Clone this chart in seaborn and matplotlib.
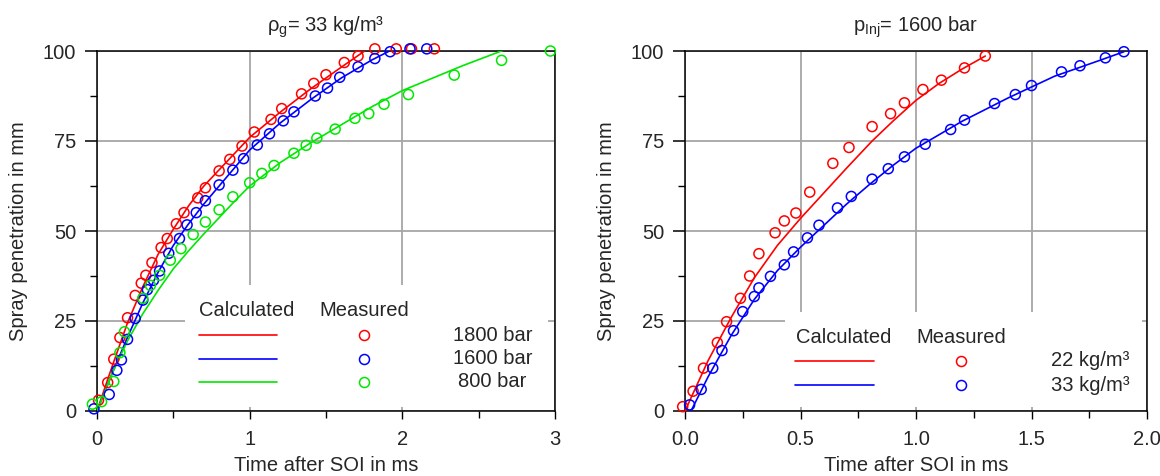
import numpy as np
import matplotlib
matplotlib.use("Agg")
import matplotlib.pyplot as plt
import seaborn as sns
from matplotlib.patches import Rectangle
from matplotlib.ticker import MultipleLocator, FormatStrFormatter

sns.set_theme(style="white")
plt.rcParams["font.family"] = ["Liberation Sans", "DejaVu Sans"]
plt.rcParams["mathtext.fontset"] = "custom"
plt.rcParams["mathtext.rm"] = "Liberation Sans"
plt.rcParams["mathtext.it"] = "Liberation Sans:italic"

RED, BLUE, GREEN = "#ff0000", "#0000ff", "#00e800"
GRID = "#a6a6a6"
FS = 14.5

# ---- Left: injection pressure variation at rho_g = 33 kg/m^3 ----
p_labels = ["1800 bar", "1600 bar", "800 bar"]

calc_t_1800 = [0, 0.1, 0.2, 0.3, 0.4, 0.5, 0.6, 0.7, 0.8, 0.9, 1.0, 1.2, 1.4, 1.6, 1.77]
calc_y_1800 = [0, 12.5, 24.5, 34.5, 43.5, 50.5, 57, 62.5, 67, 71.5, 76, 83, 89.5, 95.5, 100.5]
calc_t_1600 = [0, 0.1, 0.2, 0.3, 0.4, 0.5, 0.6, 0.7, 0.8, 0.9, 1.0, 1.2, 1.4, 1.6, 1.8, 1.93]
calc_y_1600 = [0, 10.5, 20.5, 30, 38.5, 46, 52, 57.5, 62.5, 67.5, 72.5, 80, 86.5, 92.5, 97.5, 100.3]
calc_t_800 = [0, 0.1, 0.2, 0.3, 0.4, 0.5, 0.6, 0.7, 0.8, 0.9, 1.0, 1.2, 1.4, 1.6, 1.8, 2.0, 2.2, 2.4, 2.68]
calc_y_800 = [0, 10.5, 19.5, 27, 33.5, 39.5, 44.5, 49.2, 53.7, 58.2, 62.5, 69, 74.5, 79.5, 84.5, 89, 92.5, 96, 100.5]

meas_t_1800 = [0.01, 0.07, 0.11, 0.15, 0.20, 0.25, 0.29, 0.32, 0.36, 0.42, 0.46, 0.52, 0.57,
               0.66, 0.71, 0.80, 0.87, 0.95, 1.03, 1.14, 1.21, 1.34, 1.42, 1.50, 1.62, 1.71,
               1.82, 1.96, 2.06, 2.21]
meas_y_1800 = [3.0, 7.9, 14.4, 20.4, 25.9, 32.1, 35.5, 37.7, 41.2, 45.4, 47.9, 52.0, 55.1,
               59.2, 62.0, 66.7, 69.9, 73.6, 77.5, 81.0, 84.0, 88.1, 91.0, 93.4, 96.8, 98.6,
               100.6, 100.6, 100.6, 100.6]
meas_t_1600 = [-0.02, 0.08, 0.13, 0.16, 0.20, 0.25, 0.30, 0.33, 0.37, 0.41, 0.47, 0.54, 0.59,
               0.65, 0.71, 0.80, 0.89, 0.96, 1.05, 1.13, 1.22, 1.29, 1.43, 1.51, 1.59, 1.71,
               1.82, 1.92, 2.05, 2.16]
meas_y_1600 = [0.6, 4.6, 11.3, 14.2, 19.9, 25.7, 30.8, 33.7, 36.3, 38.9, 43.8, 47.9, 51.7,
               55.1, 58.4, 62.8, 66.9, 70.1, 73.9, 77.0, 80.6, 83.1, 87.5, 89.7, 92.7, 95.6,
               97.9, 99.8, 100.6, 100.6]
meas_t_800 = [-0.03, 0.03, 0.11, 0.15, 0.18, 0.30, 0.35, 0.41, 0.48, 0.55, 0.63, 0.71, 0.80,
              0.89, 1.00, 1.08, 1.16, 1.29, 1.37, 1.44, 1.56, 1.69, 1.78, 1.88, 2.04, 2.34,
              2.65, 2.97]
meas_y_800 = [1.9, 2.6, 8.2, 16.2, 22.0, 31.3, 34.9, 37.7, 41.9, 45.1, 49.0, 52.5, 55.9,
              59.5, 63.4, 66.0, 68.2, 71.6, 73.8, 75.8, 78.3, 81.3, 82.6, 85.2, 87.9, 93.3,
              97.4, 100.0]

# ---- Right: gas density variation at p_inj = 1600 bar ----
rho_labels = ["22 kg/m³", "33 kg/m³"]

calc_t_22 = [0, 0.1, 0.2, 0.3, 0.4, 0.5, 0.6, 0.7, 0.81, 0.9, 1.0, 1.1, 1.2, 1.3]
calc_y_22 = [0, 14, 26, 37, 46, 53.5, 60.5, 67.5, 75, 80.5, 86.3, 91, 95, 98.6]
calc_t_33 = [0.026, 0.1, 0.2, 0.3, 0.4, 0.5, 0.575, 0.7, 0.8, 0.9, 1.0, 1.2, 1.4, 1.6, 1.8, 1.9]
calc_y_33 = [0, 9.5, 21, 31, 39, 45.5, 50, 57.5, 63, 68.2, 73, 80.5, 87, 93, 97.5, 99.8]

meas_t_22 = [-0.01, 0.035, 0.08, 0.14, 0.18, 0.24, 0.28, 0.32, 0.39, 0.43, 0.48, 0.54, 0.64,
             0.71, 0.81, 0.89, 0.95, 1.03, 1.11, 1.21, 1.30]
meas_y_22 = [1.2, 5.5, 11.9, 19.0, 24.8, 31.3, 37.5, 43.7, 49.5, 52.8, 55.0, 60.8, 68.8,
             73.2, 79.0, 82.6, 85.6, 89.3, 91.9, 95.3, 98.6]
meas_t_33 = [0.02, 0.07, 0.12, 0.16, 0.21, 0.25, 0.30, 0.32, 0.37, 0.43, 0.47, 0.53, 0.58,
             0.66, 0.72, 0.81, 0.88, 0.95, 1.04, 1.15, 1.21, 1.34, 1.43, 1.50, 1.63, 1.71,
             1.82, 1.90]
meas_y_33 = [1.7, 6.0, 11.9, 16.8, 22.3, 27.6, 31.8, 34.2, 37.4, 40.6, 44.2, 48.1, 51.6,
             56.4, 59.6, 64.4, 67.3, 70.6, 74.1, 78.2, 80.8, 85.4, 87.9, 90.4, 94.2, 95.9,
             98.1, 99.8]

y_ticks = [0, 25, 50, 75, 100]


def style_axes(ax, xmax, xmajor, xfmt):
    ax.set_xlim(0, xmax)
    ax.set_ylim(0, 100)
    ax.set_axisbelow(True)
    ax.xaxis.set_major_locator(MultipleLocator(xmajor))
    ax.xaxis.set_minor_locator(MultipleLocator(xmajor / 2))
    ax.xaxis.set_major_formatter(FormatStrFormatter(xfmt))
    ax.set_yticks(y_ticks)
    ax.yaxis.set_minor_locator(MultipleLocator(12.5))
    ax.grid(True, which="major", color=GRID, linewidth=1.3)
    for s in ax.spines.values():
        s.set_visible(True)
        s.set_color("black")
        s.set_linewidth(1.1)
    ax.tick_params(axis="y", which="major", direction="out", length=9, width=1.1,
                   color="black", pad=6, labelsize=FS, left=True)
    ax.tick_params(axis="y", which="minor", direction="out", length=5, width=1.0,
                   color="black", left=True)
    ax.tick_params(axis="x", which="major", direction="out", length=6, width=1.0,
                   color="black", pad=8, labelsize=FS, bottom=True)
    ax.tick_params(axis="x", which="minor", direction="out", length=5, width=1.0,
                   color="black", bottom=True)
    for tick, val in zip(ax.yaxis.get_major_ticks(), y_ticks):
        if 0 < val < 100:
            tick.tick1line.set_color(GRID)
    ax.set_ylabel("Spray penetration in mm", fontsize=FS)
    ax.set_xlabel("Time after SOI in ms", fontsize=FS)
    ax.yaxis.set_label_coords(-0.15, 0.5)
    ax.xaxis.set_label_coords(0.5, -0.125)
    ax.xaxis.label.set_va("top")


def draw_series(ax, ct, cy, mt, my, color):
    sns.lineplot(x=ct, y=cy, ax=ax, color=color, linewidth=1.2, estimator=None,
                 sort=False, legend=False, zorder=3)
    sns.scatterplot(x=mt, y=my, ax=ax, marker="o", s=52, facecolor="none",
                    edgecolor=color, linewidth=1.1, clip_on=False, zorder=4, legend=False)


def draw_key(ax, box, head_y, calc_x, meas_x, line_x, label_x, rows_y, colors, labels):
    ax.add_patch(Rectangle((box[0], box[1]), box[2] - box[0], box[3] - box[1],
                           transform=ax.transAxes, facecolor="white", edgecolor="none",
                           zorder=1))
    ax.text(calc_x, head_y, "Calculated", transform=ax.transAxes, ha="center",
            va="center", fontsize=FS, zorder=5)
    ax.text(meas_x, head_y, "Measured", transform=ax.transAxes, ha="center",
            va="center", fontsize=FS, zorder=5)
    for yy, c, lab in zip(rows_y, colors, labels):
        ax.plot(line_x, [yy, yy], color=c, linewidth=1.2, transform=ax.transAxes,
                zorder=5)
        ax.plot([meas_x], [yy], marker="o", markersize=7.2, markerfacecolor="none",
                markeredgecolor=c, markeredgewidth=1.1, linestyle="none",
                transform=ax.transAxes, zorder=5)
        ax.text(label_x, yy, lab, transform=ax.transAxes, ha="center", va="center",
                fontsize=FS, zorder=5)


fig = plt.figure(figsize=(11.6, 4.76), dpi=100)
ax1 = fig.add_axes([97 / 1160, 65 / 476, 458 / 1160, 360 / 476])
ax2 = fig.add_axes([685 / 1160, 65 / 476, 462 / 1160, 360 / 476])

# Left panel
style_axes(ax1, 3, 1, "%d")
draw_series(ax1, calc_t_1800, calc_y_1800, meas_t_1800, meas_y_1800, RED)
draw_series(ax1, calc_t_1600, calc_y_1600, meas_t_1600, meas_y_1600, BLUE)
draw_series(ax1, calc_t_800, calc_y_800, meas_t_800, meas_y_800, GREEN)
ax1.set_title(r"$\mathregular{\rho_g}$= 33 kg/m³", fontsize=FS, pad=14)
draw_key(ax1, (0.192, 0.012, 0.985, 0.35), 0.280, 0.327, 0.583, [0.222, 0.393],
         0.8635, [0.211, 0.145, 0.081], [RED, BLUE, GREEN], p_labels)

# Right panel
style_axes(ax2, 2, 0.5, "%.1f")
draw_series(ax2, calc_t_22, calc_y_22, meas_t_22, meas_y_22, RED)
draw_series(ax2, calc_t_33, calc_y_33, meas_t_33, meas_y_33, BLUE)
ax2.set_title(r"$\mathregular{p_{Inj}}$= 1600 bar", fontsize=FS, pad=14)
draw_key(ax2, (0.216, 0.012, 0.99, 0.275), 0.204, 0.343, 0.598, [0.238, 0.409],
         0.878, [0.139, 0.072], [RED, BLUE], rho_labels)

fig.savefig("out.png", dpi=100)
